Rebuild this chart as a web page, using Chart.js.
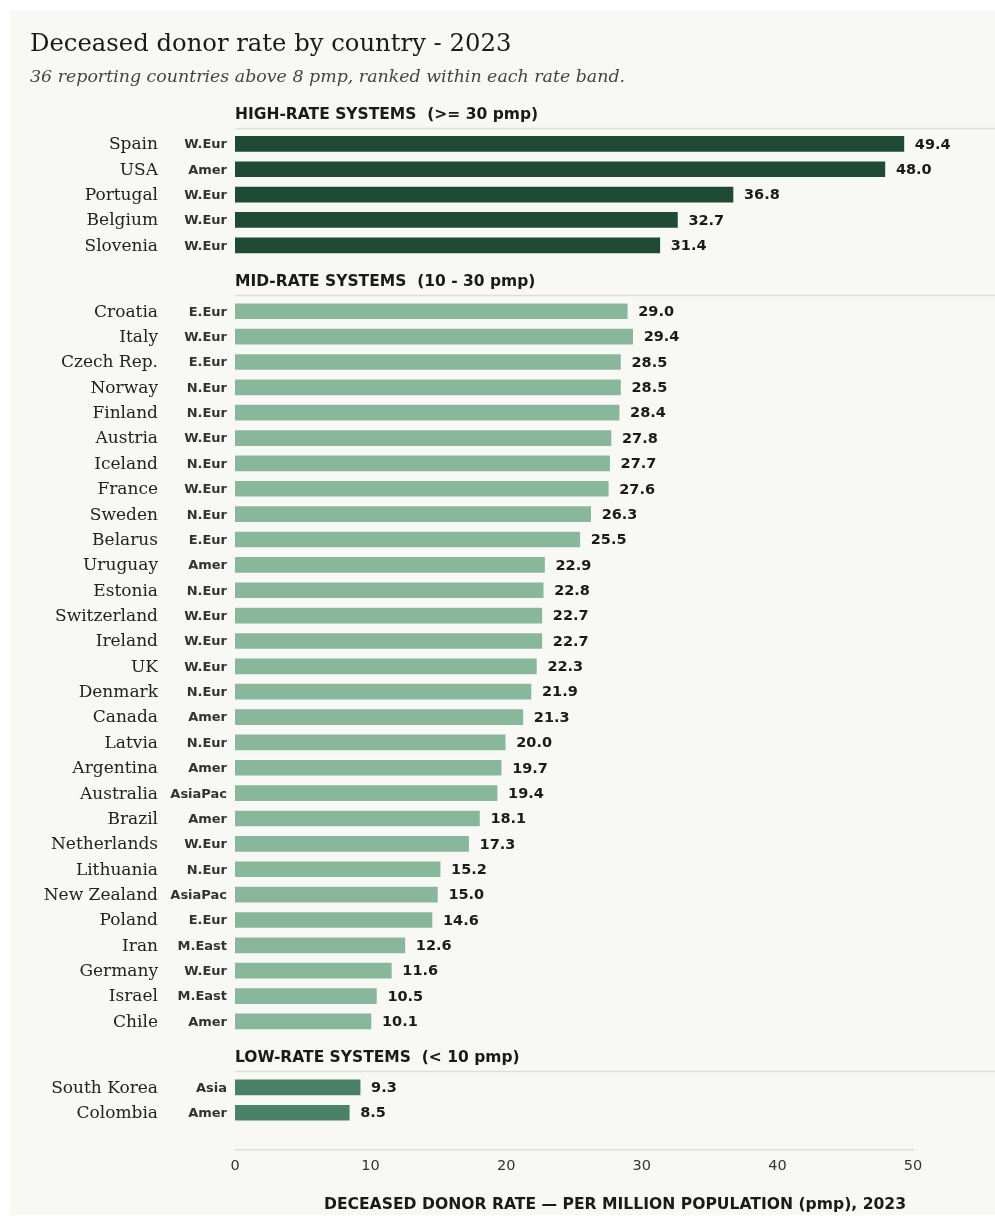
<!DOCTYPE html>
<html>
<head>
<meta charset="utf-8">
<script src="https://cdn.jsdelivr.net/npm/chart.js@4"></script>
<style>
  body { margin: 0; background: #ffffff; }
  canvas { display: block; }
</style>
</head>
<body>
<canvas id="donorChart" width="995" height="1216"></canvas>
<script>
// values
var countries = ['Spain', 'USA', 'Portugal', 'Belgium', 'Slovenia',
    'Croatia', 'Italy', 'Czech Rep.', 'Norway', 'Finland', 'Austria', 'Iceland', 'France',
    'Sweden', 'Belarus', 'Uruguay', 'Estonia', 'Switzerland', 'Ireland', 'UK', 'Denmark',
    'Canada', 'Latvia', 'Argentina', 'Australia', 'Brazil', 'Netherlands', 'Lithuania',
    'New Zealand', 'Poland', 'Iran', 'Germany', 'Israel', 'Chile',
    'South Korea', 'Colombia'];
var regions = ['W.Eur', 'Amer', 'W.Eur', 'W.Eur', 'W.Eur',
    'E.Eur', 'W.Eur', 'E.Eur', 'N.Eur', 'N.Eur', 'W.Eur', 'N.Eur', 'W.Eur',
    'N.Eur', 'E.Eur', 'Amer', 'N.Eur', 'W.Eur', 'W.Eur', 'W.Eur', 'N.Eur',
    'Amer', 'N.Eur', 'Amer', 'AsiaPac', 'Amer', 'W.Eur', 'N.Eur',
    'AsiaPac', 'E.Eur', 'M.East', 'W.Eur', 'M.East', 'Amer',
    'Asia', 'Amer'];
var rates = [49.4, 48.0, 36.8, 32.7, 31.4,
    29.0, 29.4, 28.5, 28.5, 28.4, 27.8, 27.7, 27.6,
    26.3, 25.5, 22.9, 22.8, 22.7, 22.7, 22.3, 21.9,
    21.3, 20.0, 19.7, 19.4, 18.1, 17.3, 15.2,
    15.0, 14.6, 12.6, 11.6, 10.5, 10.1,
    9.3, 8.5];
var bandNames = ['HIGH-RATE SYSTEMS  (>= 30 pmp)', 'MID-RATE SYSTEMS  (10 - 30 pmp)', 'LOW-RATE SYSTEMS  (< 10 pmp)'];
var bandSizes = [5, 29, 2];
var bandColors = ['#1f4a34', '#88b79c', '#4a8268'];
var xTicks = [0, 10, 20, 30, 40, 50];

// row positions: one row per country, extra gap before each band header
var GAP = 1.6;
var positions = [], colors = [], bandStart = [];
var row = 0;
bandSizes.forEach(function(n, b) {
    if (b > 0) row += GAP;
    bandStart.push(row);
    for (var i = 0; i < n; i++) {
        positions.push(row);
        colors.push(bandColors[b]);
        row++;
    }
});

var points = rates.map(function(v, i) { return { x: v, y: positions[i] }; });

var decor = {
    id: 'decor',
    beforeDraw: function(chart) {
        var c = chart.ctx;
        c.save();
        c.fillStyle = '#ffffff';
        c.fillRect(0, 0, chart.width, chart.height);
        c.fillStyle = '#f8f8f4';
        c.fillRect(10, 10, chart.width - 10, chart.height - 11);
        c.restore();
    },
    afterDraw: function(chart) {
        var c = chart.ctx;
        var xs = chart.scales.x, ys = chart.scales.y;
        c.save();

        // titles
        c.textAlign = 'left';
        c.textBaseline = 'middle';
        c.fillStyle = '#1a1a1a';
        c.font = '24.3px "DejaVu Serif"';
        c.fillText('Deceased donor rate by country - 2023', 30, 45);
        c.fillStyle = '#444444';
        c.font = 'italic 17.4px "DejaVu Serif"';
        c.fillText('36 reporting countries above 8 pmp, ranked within each rate band.', 30, 77);

        // band headers
        bandNames.forEach(function(name, b) {
            var p0 = ys.getPixelForValue(bandStart[b]);
            var rowH = ys.getPixelForValue(1) - ys.getPixelForValue(0);
            c.fillStyle = '#1a1a1a';
            c.font = 'bold 15.5px "DejaVu Sans"';
            c.textAlign = 'left';
            c.fillText(name, xs.left, p0 - 1.18 * rowH + 1);
            c.strokeStyle = '#dddddd';
            c.lineWidth = 1.5;
            c.beginPath();
            var ly = Math.round(p0 - 0.63 * rowH) + 0.5;
            c.moveTo(xs.left, ly);
            c.lineTo(chart.width, ly);
            c.stroke();
        });

        // row labels and value labels
        var meta = chart.getDatasetMeta(0);
        meta.data.forEach(function(bar, i) {
            var y = bar.y + 1;
            c.textAlign = 'right';
            c.fillStyle = '#222222';
            c.font = '17px "DejaVu Serif"';
            c.fillText(countries[i], 158, y);
            c.fillStyle = '#333333';
            c.font = 'bold 13px "DejaVu Sans"';
            c.fillText(regions[i], 227, y);
            c.textAlign = 'left';
            c.fillStyle = '#1a1a1a';
            c.font = 'bold 14.5px "DejaVu Sans"';
            c.fillText(rates[i].toFixed(1), bar.x + 10, y);
        });

        // axis title
        c.textAlign = 'center';
        c.fillStyle = '#1a1a1a';
        c.font = 'bold 15.6px "DejaVu Sans"';
        c.fillText('DECEASED DONOR RATE \u2014 PER MILLION POPULATION (pmp), 2023', 615, 1205);
        c.restore();
    }
};

var ctx = document.getElementById('donorChart').getContext('2d');
var donorChart = new Chart(ctx, {
    type: 'bar',
    data: {
        datasets: [{
            data: points,
            backgroundColor: colors,
            borderColor: 'rgba(255,255,255,0.35)',
            borderWidth: 1,
            barThickness: 17
        }]
    },
    options: {
        indexAxis: 'y',
        responsive: false,
        animation: false,
        layout: { padding: { left: 235, right: 82, top: 102, bottom: 0 } },
        plugins: {
            legend: { display: false },
            tooltip: { enabled: false }
        },
        scales: {
            x: {
                type: 'linear',
                min: 0,
                max: 50,
                afterBuildTicks: function(s) {
                    s.ticks = xTicks.map(function(v) { return { value: v }; });
                },
                afterFit: function(s) { s.height = 66; },
                grid: { display: false, drawTicks: false },
                border: { color: '#dddddd', width: 1.5 },
                ticks: {
                    color: '#333333',
                    padding: 8,
                    font: { family: 'DejaVu Sans', size: 14.5 }
                }
            },
            y: {
                type: 'linear',
                reverse: true,
                offset: false,
                min: -1.65,
                max: 39.67,
                display: false
            }
        }
    },
    plugins: [decor]
});
</script>
</body>
</html>
